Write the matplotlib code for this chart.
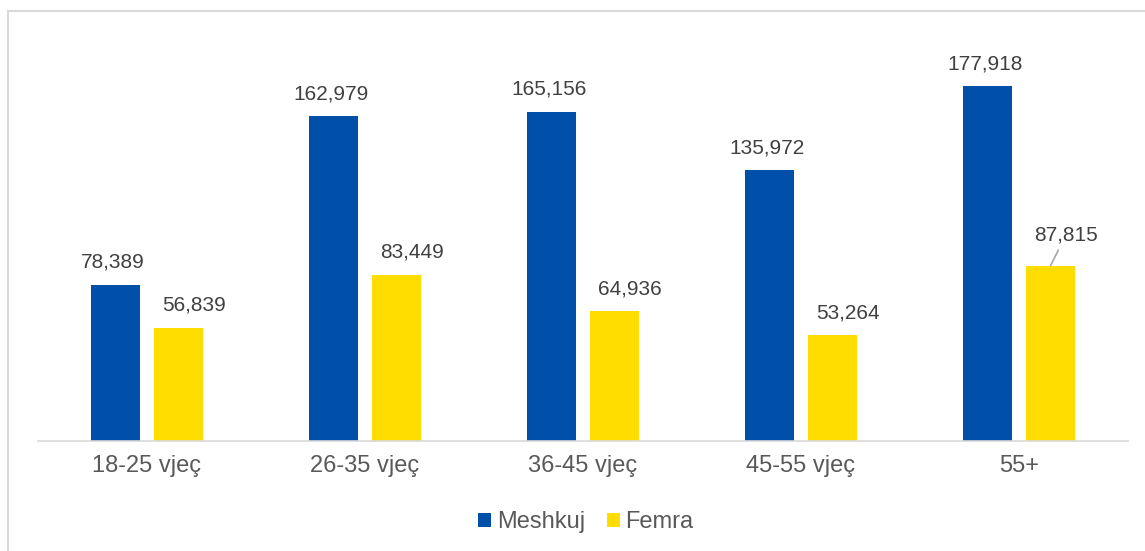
import numpy as np
import matplotlib
matplotlib.use("Agg")
import matplotlib.pyplot as plt
from matplotlib.patches import Rectangle

plt.rcParams['font.family'] = ['Liberation Sans', 'DejaVu Sans']

categories = ['18-25 vjeç', '26-35 vjeç', '36-45 vjeç', '45-55 vjeç', '55+']
meshkuj = [78389, 162979, 165156, 135972, 177918]
femra = [56839, 83449, 64936, 53264, 87815]

BLUE = '#004FA8'
YELLOW = '#FFDD00'
TEXT = '#595959'
LABEL = '#404040'


def fmt(v):
    return f'{v:,}'


fig = plt.figure(figsize=(11.45, 5.51), dpi=100)
W, H = 1145, 551
ax = fig.add_axes([38 / W, 1 - 441 / H, 1090 / W, 399 / H])

x = np.arange(len(categories))
off = 0.1445
width = 0.225
ax.bar(x - off, meshkuj, width, color=BLUE, label='Meshkuj')
ax.bar(x + off, femra, width, color=YELLOW, label='Femra')

ax.set_xlim(-0.5, len(categories) - 0.5)
ax.set_ylim(0, 200000)

for xi, v in zip(x, meshkuj):
    ax.annotate(fmt(v), (xi - off, v), xytext=(-2, 16), textcoords='offset points',
                ha='center', va='center', fontsize=15, color=LABEL)

for i, (xi, v) in enumerate(zip(x, femra)):
    if i == len(femra) - 1:
        # last label sits higher, with a leader line down to the bar
        ax.annotate(fmt(v), (xi + off, v), xytext=(11, 22), textcoords='offset points',
                    ha='center', va='center', fontsize=15, color=LABEL,
                    arrowprops=dict(arrowstyle='-', color='#A6A6A6', lw=1.2,
                                    shrinkA=2, shrinkB=0))
    else:
        ax.annotate(fmt(v), (xi + off, v), xytext=(11, 16), textcoords='offset points',
                    ha='center', va='center', fontsize=15, color=LABEL)

ax.set_xticks(x)
ax.set_xticklabels(categories, fontsize=17, color=TEXT)
ax.tick_params(axis='x', length=0, pad=10)
ax.set_yticks([])
for s in ['top', 'left', 'right']:
    ax.spines[s].set_visible(False)
ax.spines['bottom'].set_color('#D9D9D9')
ax.spines['bottom'].set_linewidth(1.2)

leg = fig.legend(loc='center', bbox_to_anchor=(586 / W, 1 - 522 / H), ncol=2,
                 frameon=False, fontsize=17, handlelength=0.55, handleheight=0.55,
                 handletextpad=0.25, columnspacing=0.9)
for t in leg.get_texts():
    t.set_color(TEXT)

fig.patches.append(Rectangle((8 / W, -0.1), 1.2, 1 - 11 / H + 0.1, transform=fig.transFigure,
                             fill=False, edgecolor='#D9D9D9', linewidth=1.5))

fig.savefig('out.png', dpi=100)
